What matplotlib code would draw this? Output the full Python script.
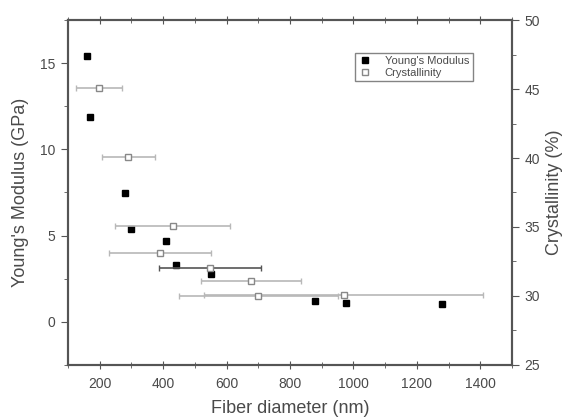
import matplotlib
matplotlib.use("Agg")
import matplotlib.pyplot as plt
from matplotlib.ticker import MultipleLocator

plt.rcParams['font.family'] = ['Liberation Sans', 'DejaVu Sans']

ym_x = [160, 170, 280, 300, 410, 440, 550, 880, 977, 1278]
ym_y = [15.4, 11.85, 7.45, 5.4, 4.7, 3.3, 2.8, 1.2, 1.1, 1.05]

cr_x = [198, 290, 430, 390, 548, 678, 700, 970]
cr_y = [45.05, 40.1, 35.05, 33.1, 32.0, 31.05, 30.0, 30.05]
cr_xerr = [72, 84, 182, 161, 161, 158, 250, 440]
cr_errcolor = ['#b8b8b8', '#b8b8b8', '#b8b8b8', '#b8b8b8', '#555555', '#b8b8b8', '#b8b8b8', '#b8b8b8']

fig = plt.figure(figsize=(5.62, 4.18), dpi=100)
ax = fig.add_axes([0.121, 0.127, 0.790, 0.825])
ax2 = ax.twinx()

txt = '#4a4a4a'
for a in (ax, ax2):
    for s in a.spines.values():
        s.set_color('#555555')
        s.set_linewidth(1.5)

h1, = ax.plot(ym_x, ym_y, 's', color='black', markersize=5, label="Young's Modulus", zorder=3)

for x, y, e, c in zip(cr_x, cr_y, cr_xerr, cr_errcolor):
    ax2.errorbar([x], [y], xerr=[e], fmt='none', ecolor=c, elinewidth=1.2, capsize=2.5, capthick=1.0, zorder=2)
h2, = ax2.plot(cr_x, cr_y, 's', markerfacecolor='white', markeredgecolor='#888888',
               markeredgewidth=1.0, markersize=5, linestyle='none', label='Crystallinity', zorder=4)

ax.set_xlim(100, 1500)
ax.set_ylim(-2.5, 17.5)
ax2.set_ylim(25, 50)

ax.set_xticks([200, 400, 600, 800, 1000, 1200, 1400])
ax.xaxis.set_minor_locator(MultipleLocator(100))
ax.yaxis.set_major_locator(MultipleLocator(5))
ax.yaxis.set_minor_locator(MultipleLocator(2.5))
ax2.yaxis.set_major_locator(MultipleLocator(5))
ax2.yaxis.set_minor_locator(MultipleLocator(2.5))

ax.tick_params(axis='both', which='both', colors='#555555', labelcolor=txt, labelsize=10)
ax.tick_params(axis='x', which='both', direction='inout', top=True)
ax.tick_params(axis='x', which='major', length=6, pad=6)
ax.tick_params(axis='x', which='minor', length=4)
ax.tick_params(axis='y', which='major', direction='out', length=5, pad=4)
ax.tick_params(axis='y', which='minor', direction='out', length=3)
ax2.tick_params(axis='y', which='both', colors='#555555', labelcolor=txt, labelsize=10, direction='out')
ax2.tick_params(axis='y', which='major', length=5, pad=4)
ax2.tick_params(axis='y', which='minor', length=3)

ax.set_xlabel('Fiber diameter (nm)', fontsize=13, color=txt, labelpad=6)
ax.set_ylabel("Young's Modulus (GPa)", fontsize=13, color=txt, labelpad=8)
ax2.set_ylabel('Crystallinity (%)', fontsize=13, color=txt, labelpad=4)

leg = ax.legend(handles=[h1, h2], loc='upper left', bbox_to_anchor=(0.646, 0.905),
                fontsize=8, frameon=True, fancybox=False, edgecolor='#666666',
                handlelength=1.2, borderpad=0.3, labelspacing=0.15, handletextpad=1.2,
                borderaxespad=0)
leg.get_frame().set_linewidth(1.0)
for t in leg.get_texts():
    t.set_color(txt)
leg.set_zorder(10)

fig.savefig('out.png', dpi=100)
